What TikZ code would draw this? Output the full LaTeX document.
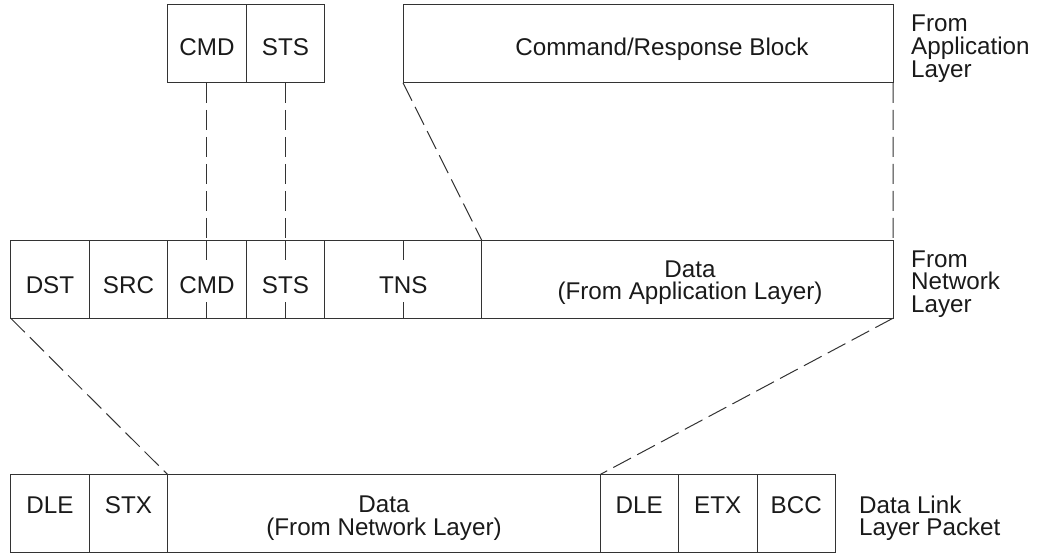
\documentclass[tikz,border=0pt]{standalone}
\usepackage{fontspec}
\setmainfont{Liberation Sans}
\definecolor{lc}{HTML}{333333}
\definecolor{tc}{HTML}{1A1A1A}
\begin{document}
\begin{tikzpicture}[x=1pt,y=-1pt,
  cell/.style={draw=lc, line width=1pt, inner sep=0pt, outer sep=0pt, minimum height=78pt, anchor=north west},
  dsh/.style={draw=lc, line width=1pt, dash pattern=on 20pt off 7pt},
  tickline/.style={draw=lc, line width=1pt},
  txt/.style={font=\fontsize{24.2pt}{22.5pt}\selectfont, text=tc, inner sep=0pt, anchor=base, align=center},
  side/.style={font=\fontsize{24.2pt}{22.6pt}\selectfont, text=tc, inner sep=0pt, anchor=base west, align=left}]
\useasboundingbox (0,0) rectangle (1048,554);

% application layer
\node[cell, minimum width=78.5pt] (cmdA) at (167.7,4.8) {};
\node[cell, minimum width=78.5pt] (stsA) at (246.2,4.8) {};
\node[cell, minimum width=490pt] (crb) at (403,4.8) {};

% network layer
\node[cell, minimum width=78.5pt] (dstN) at (10.7,240.2) {};
\node[cell, minimum width=78.5pt] (srcN) at (89.2,240.2) {};
\node[cell, minimum width=78.5pt] (cmdN) at (167.7,240.2) {};
\node[cell, minimum width=78.5pt] (stsN) at (246.2,240.2) {};
\node[cell, minimum width=157pt] (tnsN) at (324.7,240.2) {};
\node[cell, minimum width=411.3pt] (dataN) at (481.7,240.2) {};

% data link layer
\node[cell, minimum width=78.5pt] (dleB) at (10.7,474.6) {};
\node[cell, minimum width=78.5pt] (stxB) at (89.2,474.6) {};
\node[cell, minimum width=432.3pt] (dataB) at (167.7,474.6) {};
\node[cell, minimum width=78.5pt] (dleC) at (600,474.6) {};
\node[cell, minimum width=78.5pt] (etxB) at (678.5,474.6) {};
\node[cell, minimum width=78.5pt] (bccB) at (757,474.6) {};

% dashed connectors
\draw[dsh] (cmdA.south) -- (cmdN.north);
\draw[dsh] (stsA.south) -- (stsN.north);
\draw[dsh] (crb.south west) -- (dataN.north west);
\draw[dsh] (crb.south east) -- (dataN.north east);
\draw[dsh] (dstN.south west) -- (dataB.north west);
\draw[dsh] (dataN.south east) -- (dataB.north east);

% ticks
\foreach \c in {cmdN,stsN,tnsN}{
  \draw[tickline] (\c.north) -- ++(0,20);
  \draw[tickline] (\c.south) -- ++(0,-16);
}

% texts
\node[txt] (tcmdA) at (cmdA.center |- 0,55) {CMD};
\node[txt] (tstsA) at (stsA.center |- 0,55) {STS};
\node[txt] (tcrb) at (662,55) {Command/Response Block};

\node[txt] (tdstN) at (dstN.center |- 0,293.3) {DST};
\node[txt] (tsrcN) at (srcN.center |- 0,293.3) {SRC};
\node[txt] (tcmdN) at (cmdN.center |- 0,293.3) {CMD};
\node[txt] (tstsN) at (stsN.center |- 0,293.3) {STS};
\node[txt] (ttnsN) at (tnsN.center |- 0,293.3) {TNS};
\node[txt] (tdataN) at (690,299.5) {Data\\(From Application Layer)};

\node[txt] (tdleB) at (dleB.center |- 0,513.3) {DLE};
\node[txt] (tstxB) at (stxB.center |- 0,513.3) {STX};
\node[txt] (tdataB) at (384,535.2) {Data\\(From Network Layer)};
\node[txt] (tdleC) at (dleC.center |- 0,513.3) {DLE};
\node[txt] (tetxB) at (etxB.center |- 0,513.3) {ETX};
\node[txt] (tbccB) at (bccB.center |- 0,513.3) {BCC};

% side labels
\node[side] (lapp) at (911,77) {From\\Application\\Layer};
\node[side] (lnet) at (911,312.2) {From\\Network\\Layer};
\node[side] (ldl) at (859,535.6) {Data Link\\Layer Packet};
\end{tikzpicture}
\end{document}
